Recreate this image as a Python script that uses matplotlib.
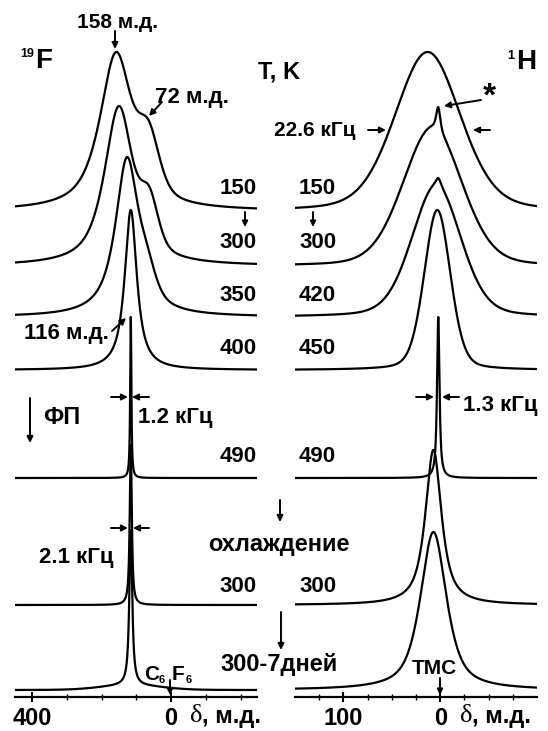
import numpy as np
import matplotlib
matplotlib.use('Agg')
import matplotlib.pyplot as plt

W, H = 548, 731
BOLD = dict(family='Liberation Sans', weight='bold')

# temperature labels
f_temps = ['150', '300', '350', '400', '490', '300', '300-7дней']
h_temps = ['150', '300', '420', '450', '490', '300']

# line components: (centre ppm, half width ppm, lorentz fraction, amplitude)
f_peaks = [
    [(158, 56, 0.8, 1.0), (64, 36, 0.35, 0.34)],
    [(150, 50, 0.8, 1.0), (62, 30, 0.3, 0.28)],
    [(127, 40, 0.9, 1.0), (70, 30, 0.3, 0.15)],
    [(116, 21, 0.95, 1.0)],
    [(116, 2, 0.9, 1.0)],
    [(116, 3.5, 0.9, 1.0)],
    [(116, 5, 0.95, 1.0), (116, 100, 0.0, 0.03)],
]
h_peaks = [
    [(13, 40, 0.25, 1.0)],
    [(8, 36, 0.2, 0.88), (2, 2.5, 0.7, 0.15)],
    [(4, 30, 0.25, 1.0), (2, 3, 0.7, 0.06)],
    [(3, 16, 0.25, 1.0)],
    [(2, 1.5, 0.9, 1.0)],
    [(7, 10, 0.85, 1.0)],
    [(7, 16, 0.7, 1.0)],
]

# stack baselines (pixel rows) and peak heights
baselines = [211, 266, 317, 370, 478, 605, 690]
f_heights = [159, 160, 160, 160, 161, 160, 160]
h_heights = [159, 159, 139, 160, 161, 155, 158]


def pv(x, c, w, eta):
    d = (x - c) / w
    return eta / (1 + d ** 2) + (1 - eta) * np.exp(-np.log(2) * d ** 2)


def spectrum(x, comps):
    y = sum(a * pv(x, c, w, e) for c, w, e, a in comps)
    return y / y.max()


def ftext(x, y, s, size=16, ha='center', **kw):
    fp = dict(BOLD)
    fp.update(kw)
    fig.text(x / W, 1 - y / H, s, fontsize=size, ha=ha, va='center', **fp)


def farrow(x0, y0, x1, y1, ms=9):
    fig.add_artist(matplotlib.patches.FancyArrowPatch(
        (x0 / W, 1 - y0 / H), (x1 / W, 1 - y1 / H), transform=fig.transFigure,
        arrowstyle='-|>', mutation_scale=ms, lw=1.4, color='k',
        shrinkA=0, shrinkB=0))


fig = plt.figure(figsize=(W / 100, H / 100), dpi=100)
axf = fig.add_axes([15 / W, 0, 242 / W, 1])
axh = fig.add_axes([295 / W, 0, 242 / W, 1])

ppm_f = np.linspace(449, -247, 8000)
ppm_h = np.linspace(150, -100, 8000)

for ax, x, peaks, hts in [(axf, ppm_f, f_peaks, f_heights), (axh, ppm_h, h_peaks, h_heights)]:
    for base, comps, hh in zip(baselines, peaks, hts):
        ax.plot(x, base - hh * spectrum(x, comps), color='k', lw=1.6)
    ax.set_ylim(H, 0)
    for s in ['top', 'left', 'right']:
        ax.spines[s].set_visible(False)
    ax.spines['bottom'].set_position(('data', 697))
    ax.spines['bottom'].set_linewidth(1.6)
    ax.set_yticks([])
    ax.tick_params(axis='x', which='major', direction='inout', length=7, width=1.5,
                   labelsize=17, pad=4)
    ax.tick_params(axis='x', which='minor', direction='inout', length=4, width=1)

axf.set_xlim(449, -247)
axf.set_xticks([400, 0])
axf.set_xticks([300, 200, 100, -100, -200], minor=True)
axh.set_xlim(150, -100)
axh.set_xticks([100, 0])
axh.set_xticks([125, 75, 50, 25, -25, -50, -75], minor=True)
for ax in [axf, axh]:
    for lab in ax.get_xticklabels():
        lab.set_fontfamily('Liberation Sans')
        lab.set_fontweight('bold')

# axis titles
fig.text(190 / W, 1 - 716 / H, 'δ', fontsize=19, family='Liberation Serif', va='center')
ftext(202, 717, ', м.д.', size=17, ha='left')
fig.text(460 / W, 1 - 716 / H, 'δ', fontsize=19, family='Liberation Serif', va='center')
ftext(472, 717, ', м.д.', size=17, ha='left')

# nuclei and header
ftext(27, 54, '19', size=9)
ftext(44, 61, 'F', size=20)
ftext(279, 72, 'T, K', size=17)
ftext(511, 56, '1', size=9)
ftext(526, 62, 'H', size=20)

# temperature labels
for t, y in zip(f_temps[:6], [189, 242, 295, 348, 457, 586]):
    ftext(257, y, t, ha='right')
ftext(279, 665, f_temps[6], size=17)
for t, y in zip(h_temps, [189, 242, 295, 348, 457, 586]):
    ftext(299, y, t, ha='left')
farrow(245, 212, 245, 227, ms=8)
farrow(313, 212, 313, 227, ms=8)

# peak annotations
ftext(118, 22, '158 м.д.', size=15)
farrow(115, 31, 115, 49)
ftext(155, 98, '72 м.д.', ha='left')
farrow(162, 102, 149, 116)
ftext(66, 333, '116 м.д.')
farrow(112, 331, 126, 318)
ftext(489, 97, '*', size=24)
farrow(481, 100, 444, 106)
ftext(356, 130, '22.6 кГц', size=15, ha='right')
farrow(368, 130, 386, 130)
farrow(490, 130, 473, 130)

# phase transition and widths
ftext(43, 417, 'ФП', size=17, ha='left')
farrow(30, 398, 30, 443)
ftext(138, 418, '1.2 кГц', ha='left')
farrow(111, 397, 128, 397)
farrow(149, 397, 132, 397)
ftext(463, 405, '1.3 кГц', ha='left')
farrow(416, 397, 434, 397)
farrow(459, 397, 442, 397)
ftext(76, 558, '2.1 кГц')
farrow(111, 528, 128, 528)
farrow(149, 528, 133, 528)

ftext(279, 545, 'охлаждение', size=17)
farrow(280, 500, 280, 522)
farrow(281, 612, 281, 650)

# references
ftext(152, 674, 'C', size=15)
ftext(162, 680, '6', size=8)
ftext(178, 674, 'F', size=15)
ftext(189, 680, '6', size=8)
farrow(170, 680, 170, 695, ms=8)
ftext(434, 669, 'TMC', size=15)
farrow(440, 678, 440, 695, ms=8)

fig.savefig('out.png', dpi=100)
